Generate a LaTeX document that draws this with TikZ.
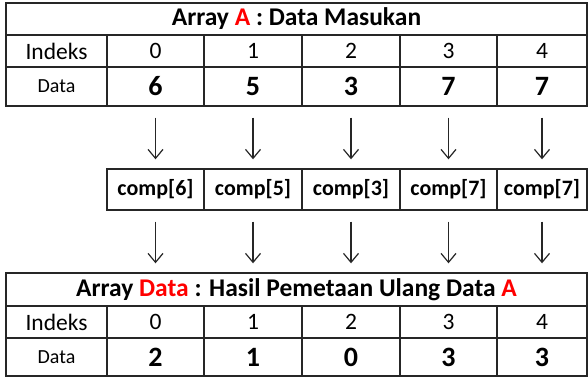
\documentclass[tikz,border=0pt]{standalone}
\usepackage{fontspec}
\setmainfont{Carlito}
\usetikzlibrary{arrows.meta}
\definecolor{gridc}{HTML}{262626}
\definecolor{redc}{HTML}{FF0000}
\begin{document}
\begin{tikzpicture}[x=1pt,y=-1pt,
  cell/.style={draw=gridc, line width=1.4pt, inner sep=0pt, anchor=center},
  titlef/.style={font=\fontsize{25.5}{27}\selectfont\bfseries},
  idxf/.style={font=\fontsize{23.5}{25}\selectfont},
  lblf/.style={font=\fontsize{20}{22}\selectfont},
  numf/.style={font=\fontsize{28}{30}\selectfont\bfseries},
  compf/.style={font=\fontsize{22}{24}\selectfont\bfseries},
  arr/.style={-{Straight Barb[length=9pt,width=15pt,line width=1.2pt]}, line width=1.2pt, draw=gridc, shorten <=11pt, shorten >=9pt}]
\useasboundingbox (0,0) rectangle (588,377);
% ---------- top table ----------
\node[cell, titlef, minimum width=581pt, minimum height=32pt] (ta) at (296.5,19) {Array \textcolor{redc}{A} : Data Masukan};
\node[cell, idxf, minimum width=101pt, minimum height=32pt] (tal) at (56.5,51) {Indeks};
\node[cell, lblf, minimum width=101pt, minimum height=39pt] (tdl) at (56.5,86.5) {Data};
\foreach \i/\cx/\w/\v in {0/155.5/97/6, 1/253/98/5, 2/351/98/3, 3/448.5/97/7, 4/542/90/7}{
  \node[cell, idxf, minimum width=\w pt, minimum height=32pt] (ai\i) at (\cx,51) {\i};
  \node[cell, numf, minimum width=\w pt, minimum height=39pt] (ad\i) at (\cx,86.5) {\v};
  \node[cell, compf, minimum width=\w pt, minimum height=41pt] (c\i) at (\cx,189.5) {comp[\v]};
}
% ---------- bottom table ----------
\node[cell, titlef, minimum width=581pt, minimum height=33pt] (tb) at (296.5,289.5) {Array \textcolor{redc}{Data} : Hasil Pemetaan Ulang Data \textcolor{redc}{A}};
\node[cell, idxf, minimum width=101pt, minimum height=32pt] (tbl) at (56.5,322) {Indeks};
\node[cell, lblf, minimum width=101pt, minimum height=38pt] (tbdl) at (56.5,357) {Data};
\foreach \i/\cx/\w/\v in {0/155.5/97/2, 1/253/98/1, 2/351/98/0, 3/448.5/97/3, 4/542/90/3}{
  \node[cell, idxf, minimum width=\w pt, minimum height=32pt] (bi\i) at (\cx,322) {\i};
  \node[cell, numf, minimum width=\w pt, minimum height=38pt] (bd\i) at (\cx,357) {\v};
}
% ---------- arrows ----------
\foreach \i in {0,...,4}{
  \draw[arr] (ad\i.south) -- (c\i.north);
  \draw[arr] (c\i.south) -- (tb.north -| c\i.south);
}
\end{tikzpicture}
\end{document}
